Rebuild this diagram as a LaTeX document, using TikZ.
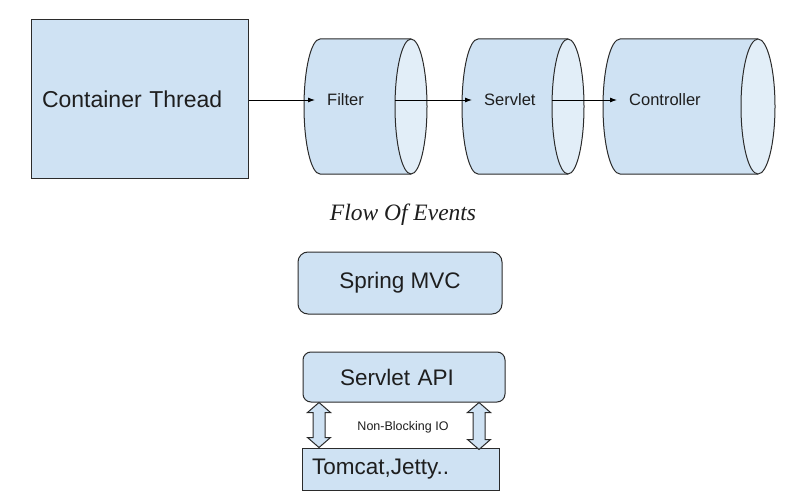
\documentclass[tikz,border=0pt]{standalone}
\usepackage{fontspec}
\setmainfont{Liberation Sans}
\newfontfamily\capfont{Liberation Serif}
\usetikzlibrary{arrows.meta,calc}
\definecolor{bodyc}{HTML}{CFE2F3}
\definecolor{capc}{HTML}{E2EEF8}
\definecolor{linec}{HTML}{2B2B2B}
\definecolor{txtc}{HTML}{1E1E1E}
\newcommand{\mycyl}[3]{%
  \fill[bodyc] (#1,39) arc[start angle=90,end angle=270,x radius=#3pt,y radius=67.5pt] -- (#2,174) -- (#2,39) -- cycle;
  \draw[linec,line width=1pt] (#2,39) -- (#1,39) arc[start angle=90,end angle=270,x radius=#3pt,y radius=67.5pt] -- (#2,174);
  \draw[linec,line width=1pt,fill=capc] (#2,106.5) ellipse[x radius=#3pt,y radius=67.5pt];
}
\tikzset{
  box/.style={draw=linec,line width=1pt,fill=bodyc,text=txtc,inner sep=0pt},
  cyltext/.style={text=txtc,font=\fontsize{16.5}{19}\selectfont,anchor=west,inner xsep=12pt,inner ysep=0pt},
  arr/.style={-{Latex[length=7pt,width=5pt]},line width=0.9pt,black},
  dbl/.style={draw=linec,line width=1pt,fill=bodyc,line join=miter},
}
\begin{document}
\begin{tikzpicture}[x=1pt,y=-1pt]
\useasboundingbox (0,0) rectangle (787,503);
\fill[white] (0,0) rectangle (787,503);
% container thread
\node[box,minimum width=217pt,minimum height=158pt,text width=195pt,inner xsep=11pt,align=left,
  font=\fontsize{23}{27}\selectfont] (ct) at (139.5,99) {Container Thread};
% cylinders
\mycyl{320}{411}{16}
\mycyl{478}{568}{16}
\mycyl{620}{758}{17}
\node[cyltext] (filter) at (315,100) {Filter};
\node[cyltext] (servlet) at (472,100) {Servlet};
\node[cyltext] (controller) at (617,100) {Controller};
\coordinate (filterend) at (395,100);
\coordinate (servletend) at (552,100);
\draw[arr] (ct.east |- filter.west) -- (filter.west);
\draw[arr] (filterend) -- (servlet.west);
\draw[arr] (servletend) -- (controller.west);
% caption
\node[text=txtc,font=\capfont\itshape\fontsize{23.5}{27}\selectfont] (caption) at (403,215) {Flow Of Events};
% stack
\node[box,rounded corners=10pt,minimum width=204pt,minimum height=62pt,font=\fontsize{22.5}{26}\selectfont] (mvc) at (400,283) {Spring MVC};
\node[box,rounded corners=8pt,minimum width=202pt,minimum height=50pt,text width=128pt,inner xsep=37pt,align=left,font=\fontsize{22.5}{26}\selectfont] (api) at (404,377) {Servlet API};
\node[box,minimum width=197pt,minimum height=42pt,text width=177pt,inner xsep=10pt,align=left,font=\fontsize{22.5}{26}\selectfont] (tomcat) at (400.5,469) {Tomcat,Jetty..};
\coordinate (lx) at (319,0);
\coordinate (rx) at (479,0);
\coordinate (la) at (api.south -| lx);
\coordinate (lb) at (tomcat.north -| lx);
\coordinate (ra) at (api.south -| rx);
\coordinate (rb) at ($(tomcat.north -| rx)+(0,2)$);
\draw[dbl] (la) -- ++(11.5,10) -- ++(-5.5,0) -- ($(lb)+(6,-10)$) -- ++(5.5,0) -- (lb) -- ++(-11.5,-10) -- ++(5.5,0) -- ($(la)+(-6,10)$) -- ++(-5.5,0) -- cycle;
\draw[dbl] (ra) -- ++(11.5,10) -- ++(-5.5,0) -- ($(rb)+(6,-10)$) -- ++(5.5,0) -- (rb) -- ++(-11.5,-10) -- ++(5.5,0) -- ($(ra)+(-6,10)$) -- ++(-5.5,0) -- cycle;
\node[text=txtc,font=\fontsize{12.5}{15}\selectfont] (nbio) at (403,427) {Non-Blocking IO};
\end{tikzpicture}
\end{document}
